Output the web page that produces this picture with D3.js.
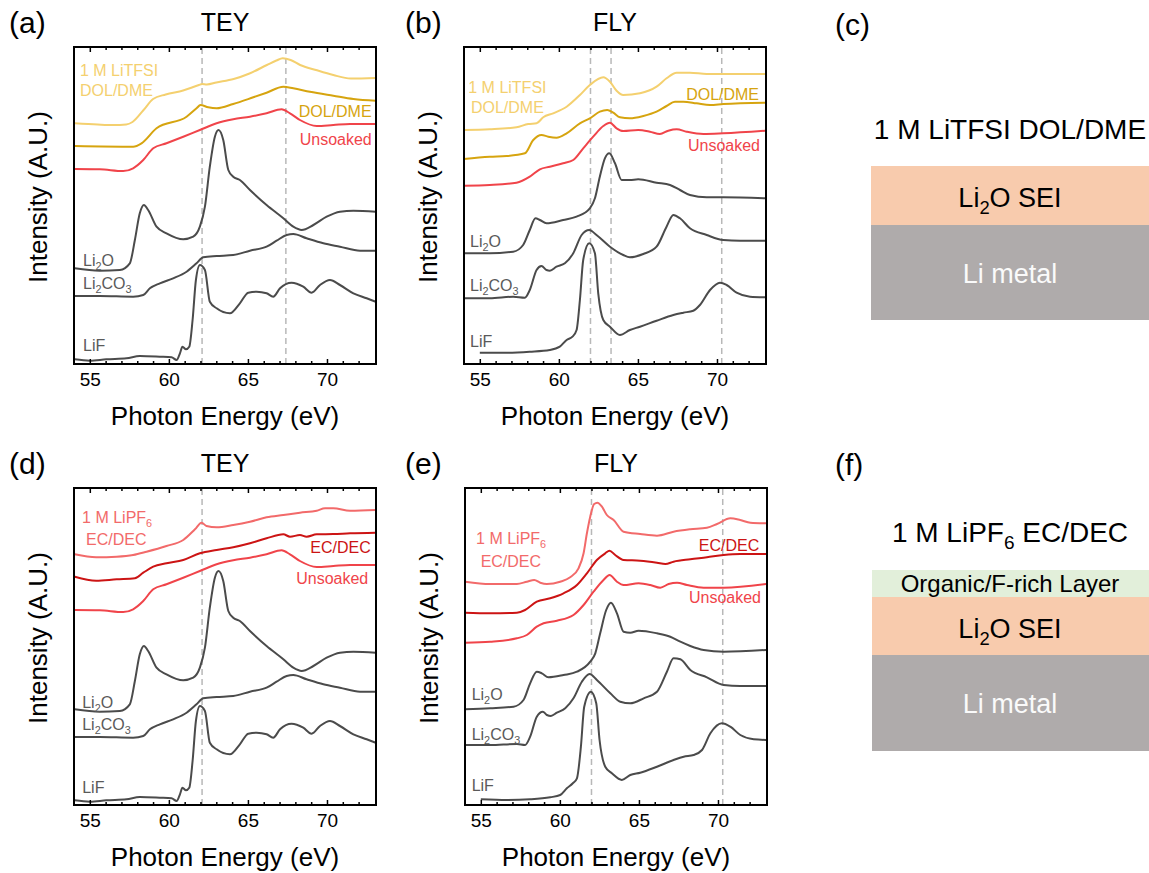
<!DOCTYPE html>
<html>
<head>
<meta charset="utf-8">
<script src="https://cdn.jsdelivr.net/npm/d3@7"></script>
<style>
  body { margin: 0; background: #fff; }
  svg { display: block; font-family: "Liberation Sans", Arial, sans-serif; }
</style>
</head>
<body>
<svg id="fig" width="1149" height="873"></svg>
<script>
// x ticks (photon energy, eV)
var majorTicks = [55, 60, 65, 70];
var minorTicks = [56, 57, 58, 59, 61, 62, 63, 64, 66, 67, 68, 69, 71, 72];

// spectra: [photon energy (eV), stacked intensity (a.u.)]
// --- TEY, shared by (a) and (d)
var teyUnsoaked = [[54.05,195],[55.63,194.7],[57.11,193],[57.74,195.7],[58.38,204],[59.01,215.7],[59.85,220.7],[60.91,227.3],[61.96,234],[63.02,240.7],[64.07,244.7],[65.13,247.3],[66.18,250.7],[67.13,254.7],[67.66,250.7],[68.29,244],[69.35,238],[70.4,239],[71.46,240],[73.08,240]];
var teyLi2O = [[54.05,95.7],[55.63,93.3],[56.9,94],[57.53,100.7],[57.85,124],[58.16,150.7],[58.42,159],[58.69,154],[59.22,137.3],[59.85,130.7],[60.91,124.7],[61.54,127.3],[61.96,137.3],[62.28,157.3],[62.59,197.3],[62.91,227.3],[63.14,234],[63.44,224],[63.76,194],[64.07,187.3],[64.49,184],[65.13,174],[66.18,159],[67.24,145.7],[67.87,137.3],[68.4,134],[69.14,139],[69.98,147.3],[70.82,152.3],[71.67,153.3],[73.08,152.3]];
var teyLi2CO3 = [[54.05,68],[55.63,68],[57.74,67.3],[58.38,69],[58.8,75.7],[59.43,80.7],[60.27,85.7],[61.12,92.3],[61.75,100.7],[62.17,106.7],[63.02,108],[64.07,109],[65.13,113.3],[66.18,117.3],[66.81,123.3],[67.45,129],[67.87,130],[68.71,125.7],[69.77,120.7],[70.82,117.3],[72.09,113.3],[73.08,113.3]];
var teyLiF = [[54.05,4.7],[55,3.3],[56.05,4.7],[57.32,5.7],[58.16,8],[59.43,7.3],[60.17,6.7],[60.49,4],[60.7,10.7],[60.86,17.3],[61.08,14.7],[61.29,17.3],[61.5,44],[61.71,84],[61.96,99],[62.28,94],[62.59,62.3],[63.02,55.7],[63.86,50.7],[64.49,60.7],[65.02,71.3],[65.55,72.3],[66.18,70.7],[66.6,67.3],[67.03,75.7],[67.76,81.3],[68.5,77.3],[69.03,71.3],[69.56,79],[70.19,84],[70.82,79],[71.67,70.7],[72.51,65.7],[73.08,62.3]];
// --- TEY (a): LiTFSI DOL/DME
var teyLitfsi = [[54.05,240.7],[55.5,239.5],[56.5,239],[57.3,239.5],[57.7,242],[58.4,254],[59.0,265],[59.8,269.5],[60.9,273.5],[61.9,279],[62.1,280],[62.4,279.5],[63.0,281.5],[64.1,285],[65.1,290.5],[66.2,299],[66.8,303.5],[67.2,305.7],[67.7,304],[68.3,299],[69.3,294],[70.4,289],[71.5,285.5],[73.08,286]];
var teyDolDme = [[54.05,218],[57.74,217.3],[58.27,220.7],[59.22,235.7],[61.12,247.3],[61.75,255.7],[62.0,259],[62.49,256.7],[63.02,255.7],[64.07,260],[65.34,266.7],[66.18,271.3],[67.24,277.3],[67.87,275.7],[68.92,272.3],[70.4,268.3],[71.67,265],[73.08,263.3]];
// --- TEY (d): LiPF6 EC/DEC
var teyLipf6 = [[54.05,250.7],[55.4,247.7],[56.7,248.3],[57.74,250],[58.59,253.3],[59.85,259],[60.91,265],[61.65,275.7],[62.07,282.3],[62.38,279],[63.02,277.7],[64.07,280],[65.13,283.3],[66.18,287.7],[67.24,290],[68.29,292.3],[69.35,294.3],[69.88,296.7],[70.4,296.7],[71.46,294.3],[73.08,295]];
var teyEcDec = [[54.05,228.3],[55.4,224.3],[56.7,225.7],[57.85,226.7],[58.38,232.3],[59.01,238.3],[59.85,241.7],[60.91,245],[61.96,251.7],[63.02,255],[64.07,257.7],[65.13,261.7],[66.18,266.7],[67.24,270.7],[67.66,268.3],[68.29,270],[68.71,268.3],[69.35,270.7],[70.4,271],[71.46,271.7],[73.08,272.3]];
// --- FLY (b)
var flyLitfsiB = [[53.99,234],[55.63,234.7],[57.32,236.7],[58.06,240],[58.59,240.7],[59.01,246.7],[59.64,250.7],[60.49,257.3],[61.33,269],[61.96,279],[62.81,286.7],[63.23,282.3],[63.65,273.3],[64.07,269],[65.13,270.7],[66.18,277.3],[66.81,285.7],[67.45,291.3],[68.29,291.3],[69.35,290],[70.4,290],[73.04,290]];
var flyDolDmeB = [[53.99,205],[55.63,207.3],[56.69,208],[57.85,210.7],[58.38,224],[58.9,229],[59.33,227.3],[59.85,226.3],[60.49,230.7],[61.33,240.7],[61.96,245.7],[62.59,252.3],[63.06,254],[63.44,251.3],[63.86,246.7],[64.49,245.7],[65.34,248],[66.18,252.3],[66.81,258],[67.34,262.3],[67.87,262.3],[68.71,260.7],[69.56,259],[70.4,260],[73.04,261.3]];
var flyUnsoakedB = [[53.99,178.3],[55.63,179],[57.32,181.3],[58.16,187.3],[58.8,194.7],[59.43,197.3],[60.27,200.7],[60.91,204],[61.54,215.7],[62.17,227.3],[62.81,238],[63.23,241.3],[63.65,235.7],[64.07,233],[65.02,234],[65.76,232.3],[66.39,230],[66.92,233.3],[67.45,234.7],[68.08,232.3],[69.14,230],[70.4,230.7],[73.04,233.3]];
var flyLi2OB = [[53.99,110.7],[55.63,110.7],[57.11,112.3],[57.74,119],[58.16,134],[58.52,145.7],[58.8,144],[59.22,140.7],[60.27,144],[61.12,147.3],[61.96,155.7],[62.28,165.7],[62.59,187.3],[62.91,205.7],[63.19,210.7],[63.55,200.7],[63.97,184],[64.49,184],[65.02,184.7],[66.18,181.3],[67.03,179],[67.66,174],[68.29,169],[69.35,166.7],[70.4,166.7],[73.04,165.7]];
var flyLi2CO3B = [[53.99,65.7],[55.63,65.7],[57.11,67.3],[57.85,66.3],[58.16,74],[58.59,94],[58.9,98],[59.22,94],[59.43,93.3],[59.85,97.3],[60.38,100.7],[60.91,110.7],[61.44,129],[61.92,134],[62.38,129],[63.23,117.3],[64.07,109],[64.49,106.7],[65.34,110],[66.18,117.3],[66.81,137.3],[67.24,149],[67.66,145.7],[68.29,135.7],[69.35,129],[70.4,124],[71.46,123.3],[73.04,123.3]];
var flyLiFB = [[55,11.3],[56.69,11.3],[58.16,12.3],[59.43,14],[60.06,17.3],[60.49,24],[60.86,27.3],[61.12,34],[61.33,64],[61.54,104],[61.92,120.7],[62.28,110.7],[62.49,70.7],[62.81,44],[63.23,37.3],[63.86,29],[64.49,34],[65.13,37.3],[66.18,43.3],[67.24,49],[67.87,51.3],[68.5,53.3],[68.92,59],[69.56,74],[70.19,81.3],[70.61,79],[71.24,71.3],[72.09,67.3],[73.04,66.7]];
// --- FLY (e)
var flyLipf6E = [[54.01,223.3],[55.59,221],[57.28,221],[57.91,223.3],[58.38,225],[58.76,222.3],[59.18,221],[60.02,223.3],[60.65,227.7],[61.18,236.7],[61.5,251.7],[61.71,271.7],[61.92,288.3],[62.17,301],[62.38,302.3],[62.66,298.3],[62.97,290],[63.4,285],[64.03,273.3],[65.08,271],[66.14,269.3],[67.19,273.3],[68.25,275.7],[69.3,277.3],[69.94,281],[70.78,286.7],[71.41,285],[72.05,282.3],[73.04,281.7]];
var flyEcDecE = [[54.01,192.3],[55.59,191.7],[57.28,192.3],[57.8,195],[58.54,203.3],[59.39,206.7],[60.23,211.7],[61.08,220],[61.71,231.7],[62.34,245],[62.87,251.7],[63.14,254.3],[63.5,250],[64.03,245],[65.08,244.3],[66.14,242.3],[66.67,241],[67.19,243.3],[68.25,245.7],[69.3,247.7],[70.36,250],[71.41,251],[73.04,251]];
var flyUnsoakedE = [[54.01,162.3],[55.59,163.3],[57.28,166.7],[57.91,170],[58.54,178.3],[58.97,181.7],[59.81,184.3],[60.86,190],[61.5,200],[62.13,213.3],[62.76,225],[63.14,230],[63.61,223.3],[64.03,220],[64.98,221.7],[65.72,220],[66.35,217.3],[66.88,221],[67.41,222.3],[68.04,220],[69.09,217.3],[70.36,217.3],[73.04,221]];
var flyLi2OE = [[54.01,95.7],[55.59,96.7],[57.07,98.3],[57.7,105],[58.12,121.7],[58.54,133.3],[58.86,131.7],[59.28,127.7],[60.23,130],[61.08,133.3],[61.92,143.3],[62.24,151.7],[62.55,171.7],[62.93,195],[63.23,202.3],[63.61,191.7],[64.03,173.3],[64.45,172.3],[64.98,174.3],[66.14,171.7],[66.98,168.3],[67.62,163.3],[68.25,159],[69.09,155],[70.36,153.3],[73.04,155]];
var flyLi2CO3E = [[54.01,60],[55.59,60],[57.28,61],[57.8,60],[58.12,68.3],[58.54,88.3],[58.92,93.3],[59.18,90],[59.43,89],[59.81,92.3],[60.34,96.7],[60.86,106.7],[61.39,123.3],[61.88,131],[62.34,125],[63.19,111.7],[63.82,103.3],[64.45,101.7],[65.3,106.7],[66.14,113.3],[66.77,133.3],[67.19,146.7],[67.62,145.7],[68.25,135],[69.3,127.7],[70.36,120],[71.41,119],[73.04,119]];
var flyLiFE = [[55,5.7],[56.65,5],[58.12,5.7],[59.39,7.7],[60.02,10],[60.44,16.7],[60.82,21.7],[61.08,26.7],[61.33,58.3],[61.54,98.3],[61.96,113.3],[62.3,101.7],[62.51,65],[62.87,38.3],[63.29,31.7],[63.92,25],[64.45,30],[65.08,32.3],[66.14,38.3],[67.19,45],[67.83,48.3],[68.46,50],[68.99,55],[69.52,71.7],[70.25,81.7],[70.78,78.3],[71.41,70],[72.26,65.7],[73.04,65]];

// dashed guide energies (eV)
var guidesA = [62.1, 67.4];
var guidesB = [62.0, 63.3, 70.3];
var guidesD = [62.1];
var guidesE = [62.0, 70.3];

var cLight = '#f4d06f', cGold = '#d6a40f', cUnsoaked = '#f0444a',
    cPink = '#f26a6a', cDark = '#cc1414', cRef = '#4b4b4b', cRefText = '#5a5a5a';

var svg = d3.select('#fig');
var plotW = 302, plotH = 317;
var energyRange = [54, 73.1];

function richText(sel, str, size) {
    // "_" followed by a digit marks a subscript
    var parts = str.split(/_(\d)/);
    var shift = 0;
    parts.forEach(function (s, i) {
        if (!s) return;
        var t = sel.append('tspan').text(s);
        if (i % 2 === 1) {
            t.attr('font-size', size * 0.68).attr('dy', size * 0.25 - shift);
            shift = size * 0.25;
        } else if (shift) {
            t.attr('dy', -shift);
            shift = 0;
        }
    });
}

function drawPanel(p) {
    var x = d3.scaleLinear().domain(energyRange).range([p.left, p.left + plotW]);
    var y = d3.scaleLinear().domain([0, plotH]).range([p.bottom, p.bottom - plotH]);
    var g = svg.append('g');

    g.selectAll('line.guide')
        .data(p.guides)
        .enter().append('line')
        .attr('x1', function (d) { return x(d); })
        .attr('x2', function (d) { return x(d); })
        .attr('y1', y(0)).attr('y2', y(plotH))
        .attr('stroke', '#b8b8b8')
        .attr('stroke-width', 1.5)
        .attr('stroke-dasharray', '6,4');

    var line = d3.line()
        .x(function (d) { return x(d[0]); })
        .y(function (d) { return y(d[1]); })
        .curve(d3.curveMonotoneX);

    p.curves.forEach(function (c) {
        g.append('path')
            .datum(c.data)
            .attr('d', line)
            .attr('fill', 'none')
            .attr('stroke', c.color)
            .attr('stroke-width', 2);
    });

    p.labels.forEach(function (l) {
        var t = g.append('text')
            .attr('x', x(l.e)).attr('y', y(l.v))
            .attr('font-size', 16)
            .attr('fill', l.color)
            .attr('text-anchor', l.anchor || 'start');
        richText(t, l.text, 16);
    });

    // axes: ticks inward on top and bottom
    var bottomAxis = d3.axisBottom(x).tickValues(majorTicks).tickSize(-5).tickPadding(9).tickFormat(d3.format('d'));
    var bottomMinor = d3.axisBottom(x).tickValues(minorTicks).tickSize(-3).tickFormat('');
    var topAxis = d3.axisTop(x).tickValues(majorTicks).tickSize(-5).tickFormat('');
    var topMinor = d3.axisTop(x).tickValues(minorTicks).tickSize(-3).tickFormat('');

    [bottomAxis, bottomMinor].forEach(function (a) {
        var ga = g.append('g').attr('transform', 'translate(0,' + y(0) + ')').call(a);
        ga.select('.domain').remove();
        ga.selectAll('line').attr('stroke', '#000').attr('stroke-width', 1.5);
        ga.selectAll('text').attr('font-size', 19).attr('fill', '#000')
            .attr('font-family', '"Liberation Sans", Arial, sans-serif');
    });
    [topAxis, topMinor].forEach(function (a) {
        var ga = g.append('g').attr('transform', 'translate(0,' + y(plotH) + ')').call(a);
        ga.select('.domain').remove();
        ga.selectAll('line').attr('stroke', '#000').attr('stroke-width', 1.5);
    });

    g.append('rect')
        .attr('x', p.left).attr('y', y(plotH))
        .attr('width', plotW).attr('height', plotH)
        .attr('fill', 'none').attr('stroke', '#000').attr('stroke-width', 2);

    g.append('text')
        .attr('x', p.left + plotW / 2).attr('y', p.bottom + 61)
        .attr('text-anchor', 'middle').attr('font-size', 26)
        .text('Photon Energy (eV)');

    g.append('text')
        .attr('transform', 'translate(' + (p.left - 27) + ',' + (p.bottom - 167) + ') rotate(-90)')
        .attr('text-anchor', 'middle').attr('font-size', 26)
        .text('Intensity (A.U.)');

    g.append('text')
        .attr('x', p.left + plotW / 2).attr('y', p.bottom - plotH - 16)
        .attr('text-anchor', 'middle').attr('font-size', 25)
        .text(p.title);

    g.append('text')
        .attr('x', p.letterX).attr('y', p.bottom - plotH - 14)
        .attr('font-size', 30)
        .text(p.letter);
}

function drawStack(s) {
    var g = svg.append('g');
    g.append('text').attr('x', s.letterX).attr('y', s.letterY).attr('font-size', 30).text(s.letter);
    var title = g.append('text').attr('x', s.cx).attr('y', s.titleY)
        .attr('text-anchor', 'middle').attr('font-size', 28);
    richText(title, s.title, 28);
    s.layers.forEach(function (l) {
        g.append('rect')
            .attr('x', s.x0).attr('y', l.y0)
            .attr('width', s.x1 - s.x0).attr('height', l.y1 - l.y0)
            .attr('fill', l.fill);
        var t = g.append('text').attr('x', s.cx).attr('y', l.textY)
            .attr('text-anchor', 'middle').attr('font-size', l.size)
            .attr('fill', l.color);
        richText(t, l.name, l.size);
    });
}

var panels = [
    { letter: '(a)', title: 'TEY', left: 74, bottom: 364, letterX: 9, guides: guidesA,
      curves: [
          { data: teyLitfsi, color: cLight }, { data: teyDolDme, color: cGold },
          { data: teyUnsoaked, color: cUnsoaked }, { data: teyLi2O, color: cRef },
          { data: teyLi2CO3, color: cRef }, { data: teyLiF, color: cRef }],
      labels: [
          { text: '1 M LiTFSI', e: 54.38, v: 288, color: cLight },
          { text: 'DOL/DME', e: 54.38, v: 268, color: cLight },
          { text: 'DOL/DME', e: 72.82, v: 247.3, color: cGold, anchor: 'end' },
          { text: 'Unsoaked', e: 72.83, v: 219.3, color: cUnsoaked, anchor: 'end' },
          { text: 'Li_2O', e: 54.57, v: 98.3, color: cRefText },
          { text: 'Li_2CO_3', e: 54.57, v: 74.7, color: cRefText },
          { text: 'LiF', e: 54.57, v: 13.3, color: cRefText }] },
    { letter: '(b)', title: 'FLY', left: 464, bottom: 364, letterX: 405, guides: guidesB,
      curves: [
          { data: flyLitfsiB, color: cLight }, { data: flyDolDmeB, color: cGold },
          { data: flyUnsoakedB, color: cUnsoaked }, { data: flyLi2OB, color: cRef },
          { data: flyLi2CO3B, color: cRef }, { data: flyLiFB, color: cRef }],
      labels: [
          { text: '1 M LiTFSI', e: 54.27, v: 271.3, color: cLight },
          { text: 'DOL/DME', e: 54.44, v: 251.3, color: cLight },
          { text: 'DOL/DME', e: 72.66, v: 264, color: cGold, anchor: 'end' },
          { text: 'Unsoaked', e: 72.72, v: 213.3, color: cUnsoaked, anchor: 'end' },
          { text: 'Li_2O', e: 54.38, v: 116.7, color: cRefText },
          { text: 'Li_2CO_3', e: 54.38, v: 73.3, color: cRefText },
          { text: 'LiF', e: 54.38, v: 17.3, color: cRefText }] },
    { letter: '(d)', title: 'TEY', left: 74, bottom: 805, letterX: 9, guides: guidesD,
      curves: [
          { data: teyLipf6, color: cPink }, { data: teyEcDec, color: cDark },
          { data: teyUnsoaked, color: cUnsoaked }, { data: teyLi2O, color: cRef },
          { data: teyLi2CO3, color: cRef }, { data: teyLiF, color: cRef }],
      labels: [
          { text: '1 M LiPF_6', e: 54.51, v: 282.3, color: cPink },
          { text: 'EC/DEC', e: 54.76, v: 260, color: cPink },
          { text: 'EC/DEC', e: 72.77, v: 251.7, color: cDark, anchor: 'end' },
          { text: 'Unsoaked', e: 72.61, v: 221, color: cUnsoaked, anchor: 'end' },
          { text: 'Li_2O', e: 54.52, v: 97.3, color: cRefText },
          { text: 'Li_2CO_3', e: 54.52, v: 75, color: cRefText },
          { text: 'LiF', e: 54.52, v: 11.7, color: cRefText }] },
    { letter: '(e)', title: 'FLY', left: 465, bottom: 805, letterX: 405, guides: guidesE,
      curves: [
          { data: flyLipf6E, color: cPink }, { data: flyEcDecE, color: cDark },
          { data: flyUnsoakedE, color: cUnsoaked }, { data: flyLi2OE, color: cRef },
          { data: flyLi2CO3E, color: cRef }, { data: flyLiFE, color: cRef }],
      labels: [
          { text: '1 M LiPF_6', e: 54.7, v: 261, color: cPink },
          { text: 'EC/DEC', e: 54.99, v: 237.7, color: cPink },
          { text: 'EC/DEC', e: 72.61, v: 254, color: cDark, anchor: 'end' },
          { text: 'Unsoaked', e: 72.72, v: 202.3, color: cUnsoaked, anchor: 'end' },
          { text: 'Li_2O', e: 54.42, v: 105, color: cRefText },
          { text: 'Li_2CO_3', e: 54.42, v: 65, color: cRefText },
          { text: 'LiF', e: 54.42, v: 14.3, color: cRefText }] }
];

panels.forEach(drawPanel);

drawStack({ letter: '(c)', letterX: 835, letterY: 35, title: '1 M LiTFSI DOL/DME', titleY: 139,
    cx: 1010, x0: 871, x1: 1149,
    layers: [
        { name: 'Li_2O SEI', y0: 166, y1: 225, fill: '#f8cbad', color: '#000', size: 27, textY: 207 },
        { name: 'Li metal', y0: 225, y1: 320, fill: '#afabab', color: '#fafafa', size: 27, textY: 283 }] });

drawStack({ letter: '(f)', letterX: 835, letterY: 475, title: '1 M LiPF_6 EC/DEC', titleY: 542,
    cx: 1010, x0: 872, x1: 1149,
    layers: [
        { name: 'Organic/F-rich Layer', y0: 570, y1: 597, fill: '#e2efda', color: '#000', size: 24, textY: 592 },
        { name: 'Li_2O SEI', y0: 597, y1: 655, fill: '#f8cbad', color: '#000', size: 27, textY: 638 },
        { name: 'Li metal', y0: 655, y1: 751, fill: '#afabab', color: '#fafafa', size: 27, textY: 713 }] });
</script>
</body>
</html>
